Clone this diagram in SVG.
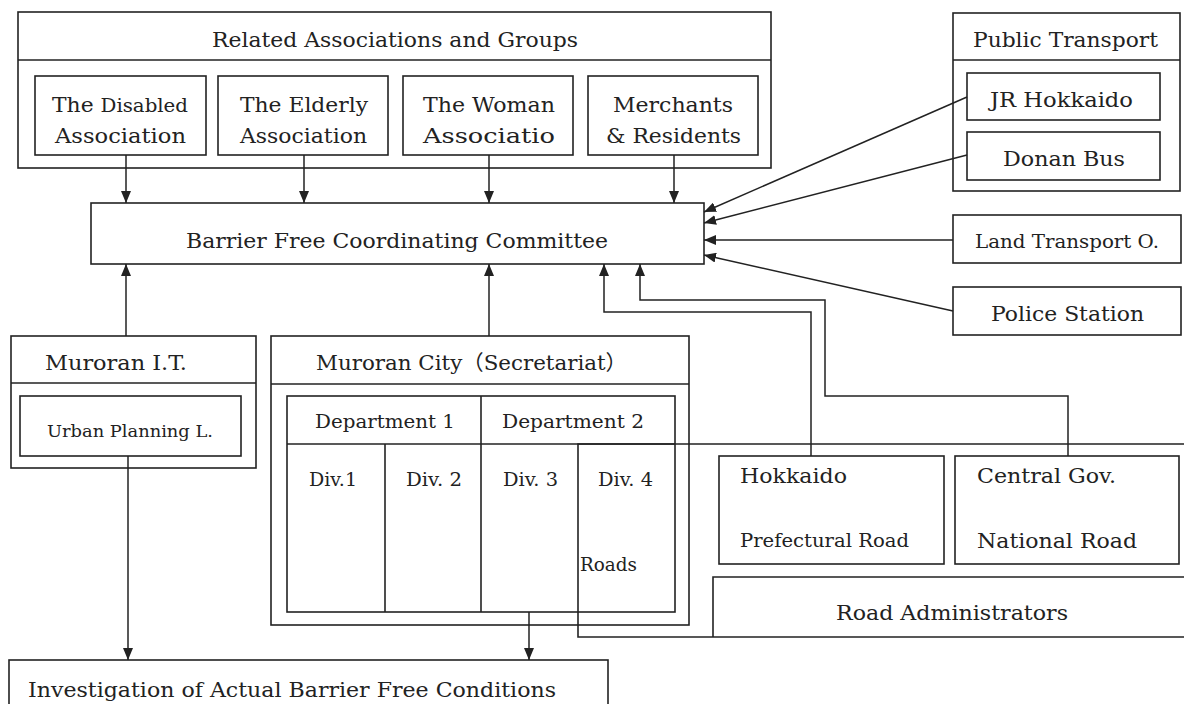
<svg xmlns="http://www.w3.org/2000/svg" width="1184" height="704" viewBox="0 0 1184 704">
<style>
.b{fill:#fff;stroke:#222;stroke-width:1.6}
.n{fill:none;stroke:#222;stroke-width:1.6}
.c{fill:none;stroke:#222;stroke-width:1.5}
text{font-family:"DejaVu Serif","Liberation Serif","Noto Sans CJK JP",serif;fill:#222;font-size:21px}
.s{font-size:19px}
.xs{font-size:17px}
</style>
<defs>
<marker id="ah" viewBox="0 0 12 10" markerWidth="12" markerHeight="10" refX="12" refY="5" orient="auto" markerUnits="userSpaceOnUse">
<path d="M0,0 L12,5 L0,10 z" fill="#222"/>
</marker>
</defs>
<rect width="1184" height="704" fill="#fff"/>

<g id="related-associations">
<rect class="b" x="18" y="12" width="753" height="156"/>
<line class="n" x1="18" y1="60" x2="771" y2="60"/>
<text x="212" y="47" textLength="366" lengthAdjust="spacingAndGlyphs">Related Associations and Groups</text>
</g>
<g id="disabled">
<rect class="b" x="35" y="76" width="171" height="79"/>
<text x="52" y="112" textLength="136" lengthAdjust="spacingAndGlyphs">The <tspan font-size="19">Disabled</tspan></text>
<text x="55" y="143" textLength="131" lengthAdjust="spacingAndGlyphs">Association</text>
</g>
<g id="elderly">
<rect class="b" x="218" y="76" width="170" height="79"/>
<text x="240" y="112" textLength="128" lengthAdjust="spacingAndGlyphs">The Elderly</text>
<text x="240" y="143" textLength="127" lengthAdjust="spacingAndGlyphs">Association</text>
</g>
<g id="woman">
<rect class="b" x="403" y="76" width="170" height="79"/>
<text x="423" y="112" textLength="132" lengthAdjust="spacingAndGlyphs">The Woman</text>
<text x="423" y="143" textLength="132" lengthAdjust="spacingAndGlyphs" font-size="23">Associatio</text>
</g>
<g id="merchants">
<rect class="b" x="588" y="76" width="170" height="79"/>
<text x="613" y="112" textLength="120" lengthAdjust="spacingAndGlyphs">Merchants</text>
<text x="606" y="143" textLength="135" lengthAdjust="spacingAndGlyphs">&amp; Residents</text>
</g>

<g id="public-transport">
<rect class="b" x="953" y="13" width="227" height="178"/>
<line class="n" x1="953" y1="60" x2="1180" y2="60"/>
<text x="973" y="47" textLength="185" lengthAdjust="spacingAndGlyphs">Public Transport</text>
</g>
<g id="jr-hokkaido">
<rect class="b" x="967" y="73" width="193" height="47"/>
<text x="990" y="107" textLength="143" lengthAdjust="spacingAndGlyphs">JR Hokkaido</text>
</g>
<g id="donan-bus">
<rect class="b" x="967" y="132" width="193" height="48"/>
<text x="1003" y="166" textLength="122" lengthAdjust="spacingAndGlyphs">Donan Bus</text>
</g>
<g id="land-transport">
<rect class="b" x="953" y="215" width="228" height="48"/>
<text class="s" x="975" y="248" textLength="184" lengthAdjust="spacingAndGlyphs">Land Transport O.</text>
</g>
<g id="police">
<rect class="b" x="953" y="287" width="228" height="48"/>
<text x="991" y="321" textLength="153" lengthAdjust="spacingAndGlyphs">Police Station</text>
</g>

<g id="committee">
<rect class="b" x="91" y="203" width="613" height="61"/>
<text x="186" y="248" textLength="422" lengthAdjust="spacingAndGlyphs">Barrier Free Coordinating Committee</text>
</g>

<g id="road-administrators">
<path class="n" d="M1184,444 H578 V637 H1184"/>
<path class="n" d="M1184,577 H713 V637"/>
<text x="836" y="620" textLength="232" lengthAdjust="spacingAndGlyphs">Road Administrators</text>
</g>

<g id="muroran-it">
<rect class="b" x="11" y="336" width="245" height="132"/>
<line class="n" x1="11" y1="383" x2="256" y2="383"/>
<text x="45" y="370" textLength="142" lengthAdjust="spacingAndGlyphs">Muroran I.T.</text>
</g>
<g id="urban-planning">
<rect class="b" x="20" y="396" width="221" height="60"/>
<text class="xs" x="47" y="437" textLength="166" lengthAdjust="spacingAndGlyphs">Urban Planning L.</text>
</g>

<g id="muroran-city">
<rect class="n" x="271" y="336" width="418" height="289"/>
<line class="n" x1="271" y1="384" x2="689" y2="384"/>
<text x="316" y="370" textLength="311" lengthAdjust="spacingAndGlyphs">Muroran City（Secretariat）</text>
<rect class="n" x="287" y="396" width="388" height="216"/>
<line class="n" x1="287" y1="444" x2="675" y2="444"/>
<line class="n" x1="481" y1="396" x2="481" y2="612"/>
<line class="n" x1="385" y1="444" x2="385" y2="612"/>
</g>
<g id="department-1"><text class="s" x="315" y="428" textLength="140" lengthAdjust="spacingAndGlyphs">Department 1</text></g>
<g id="department-2"><text class="s" x="502" y="428" textLength="142" lengthAdjust="spacingAndGlyphs">Department 2</text></g>
<g id="div-1"><text class="s" x="309" y="486" textLength="48" lengthAdjust="spacingAndGlyphs">Div.1</text></g>
<g id="div-2"><text class="s" x="406" y="486" textLength="56" lengthAdjust="spacingAndGlyphs">Div. 2</text></g>
<g id="div-3"><text class="s" x="503" y="486" textLength="55" lengthAdjust="spacingAndGlyphs">Div. 3</text></g>
<g id="div-4"><text class="s" x="598" y="486" textLength="55" lengthAdjust="spacingAndGlyphs">Div. 4</text>
<text class="s" x="580" y="571" textLength="57" lengthAdjust="spacingAndGlyphs">Roads</text></g>

<g id="hokkaido">
<rect class="b" x="719" y="456" width="225" height="108"/>
<text x="740" y="483" textLength="107" lengthAdjust="spacingAndGlyphs">Hokkaido</text>
<text class="s" x="740" y="547" textLength="169" lengthAdjust="spacingAndGlyphs">Prefectural Road</text>
</g>
<g id="central-gov">
<rect class="b" x="955" y="456" width="224" height="108"/>
<text x="977" y="483" textLength="139" lengthAdjust="spacingAndGlyphs">Central Gov.</text>
<text x="977" y="548" textLength="160" lengthAdjust="spacingAndGlyphs">National Road</text>
</g>

<g id="investigation">
<rect class="b" x="9" y="660" width="599" height="60"/>
<text x="28" y="697" textLength="528" lengthAdjust="spacingAndGlyphs">Investigation of Actual Barrier Free Conditions</text>
</g>

<g id="connectors">
<line class="c" x1="126" y1="155" x2="126" y2="203" marker-end="url(#ah)"/>
<line class="c" x1="304" y1="155" x2="304" y2="203" marker-end="url(#ah)"/>
<line class="c" x1="489" y1="155" x2="489" y2="203" marker-end="url(#ah)"/>
<line class="c" x1="674" y1="155" x2="674" y2="203" marker-end="url(#ah)"/>
<line class="c" x1="967" y1="97" x2="704" y2="212" marker-end="url(#ah)"/>
<line class="c" x1="967" y1="155" x2="704" y2="223" marker-end="url(#ah)"/>
<line class="c" x1="953" y1="240" x2="704" y2="240" marker-end="url(#ah)"/>
<line class="c" x1="953" y1="311" x2="704" y2="255" marker-end="url(#ah)"/>
<line class="c" x1="126" y1="336" x2="126" y2="264" marker-end="url(#ah)"/>
<line class="c" x1="489" y1="336" x2="489" y2="264" marker-end="url(#ah)"/>
<polyline class="c" points="811,456 811,312 604,312 604,264" marker-end="url(#ah)"/>
<polyline class="c" points="1068,456 1068,396 825,396 825,300 640,300 640,264" marker-end="url(#ah)"/>
<line class="c" x1="128" y1="456" x2="128" y2="660" marker-end="url(#ah)"/>
<line class="c" x1="529" y1="612" x2="529" y2="660" marker-end="url(#ah)"/>
</g>
</svg>
